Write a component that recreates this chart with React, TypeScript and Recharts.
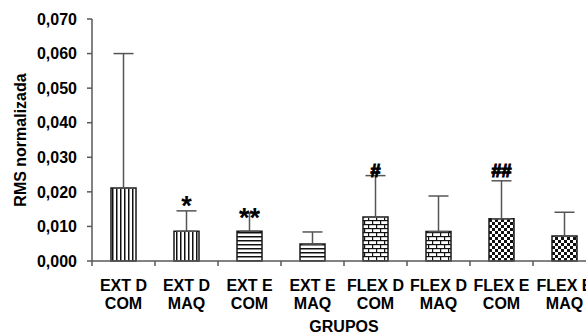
import { BarChart, Bar, XAxis, YAxis, ErrorBar, Cell, Label, ReferenceDot } from "recharts";

const groupTop = ["EXT D", "EXT D", "EXT E", "EXT E", "FLEX D", "FLEX D", "FLEX E", "FLEX E"];
const groupBottom = ["COM", "MAQ", "COM", "MAQ", "COM", "MAQ", "COM", "MAQ"];
const means = [0.0211, 0.0086, 0.0086, 0.0049, 0.0127, 0.0085, 0.0122, 0.0072];
const upper = [0.06, 0.0145, 0.0138, 0.0084, 0.0247, 0.0188, 0.0232, 0.0141];
const patterns = ["pv", "pv", "ph", "ph", "pb", "pb", "pc", "pc"];
const yTicks = [0, 0.01, 0.02, 0.03, 0.04, 0.05, 0.06, 0.07];

// significance marks: group index, symbol, baseline value
const marks = [
  { idx: 1, text: "*", at: 0.0132 },
  { idx: 2, text: "**", at: 0.0097 },
  { idx: 4, text: "#", at: 0.0242 },
  { idx: 6, text: "##", at: 0.0242 },
];

const FONT = '"Liberation Sans", Arial, sans-serif';
const AXIS = "#595959";

const data = means.map((m, i) => ({
  name: groupTop[i] + "\n" + groupBottom[i],
  mean: m,
  err: [0, upper[i] - m],
}));

const fmt = (v: number) => v.toFixed(3).replace(".", ",");

const boldText = { fontFamily: FONT, fontSize: 16, fontWeight: "bold" as const, fill: "#000" };

function GroupTick(props: any) {
  const { x, y, payload, width, visibleTicksCount } = props;
  const band = width && visibleTicksCount ? width / visibleTicksCount : 63;
  const [a, b] = String(payload.value).split("\n");
  const bx = x - band / 2;
  return (
    <g>
      <line x1={bx} x2={bx} y1={y} y2={y + 5} stroke={AXIS} strokeWidth={1.5} />
      <text x={x} y={y + 29.5} textAnchor="middle" style={boldText}>
        {a}
      </text>
      <text x={x} y={y + 47.5} textAnchor="middle" style={boldText}>
        {b}
      </text>
    </g>
  );
}

function YTitle(props: any) {
  const vb = props.viewBox;
  const cx = vb.x + 20;
  const cy = vb.y + vb.height / 2;
  return (
    <text x={cx} y={cy} transform={`rotate(-90 ${cx} ${cy})`} textAnchor="middle" dominantBaseline="central" style={boldText}>
      RMS normalizada
    </text>
  );
}

function XTitle(props: any) {
  const vb = props.viewBox;
  return (
    <text x={vb.x + vb.width / 2} y={vb.y + 70.5} textAnchor="middle" style={boldText}>
      GRUPOS
    </text>
  );
}

function markLabel(text: string) {
  return (props: any) => {
    const vb = props.viewBox;
    const star = text.includes("*");
    const style = star
      ? { ...boldText, fontSize: 27 }
      : { ...boldText, fontSize: 18, stroke: "#000", strokeWidth: 1.1 };
    return (
      <text x={vb.x} y={vb.y} textAnchor="middle" style={style}>
        {text}
      </text>
    );
  };
}

export default function App() {
  return (
    <div style={{ position: "absolute", left: 0, top: 0, width: 586, height: 334, overflow: "hidden", background: "#fff" }}>
      <BarChart width={600} height={334} data={data} margin={{ top: 19, right: 4, bottom: 0, left: 0 }} barSize={25}>
        <defs>
          <pattern id="pv" width="4" height="4" patternUnits="userSpaceOnUse">
            <rect width="4" height="4" fill="#fff" />
            <rect x="0" y="0" width="1.5" height="4" fill="#111" />
          </pattern>
          <pattern id="ph" width="4" height="4" patternUnits="userSpaceOnUse">
            <rect width="4" height="4" fill="#fff" />
            <rect x="0" y="0" width="4" height="1.5" fill="#111" />
          </pattern>
          <pattern id="pb" width="8" height="8" patternUnits="userSpaceOnUse">
            <rect width="8" height="8" fill="#fff" />
            <rect x="0" y="0" width="8" height="1.2" fill="#111" />
            <rect x="0" y="4" width="8" height="1.2" fill="#111" />
            <rect x="0" y="0" width="1.2" height="4" fill="#111" />
            <rect x="4" y="4" width="1.2" height="4" fill="#111" />
          </pattern>
          <pattern id="pc" width="6" height="6" patternUnits="userSpaceOnUse">
            <rect width="6" height="6" fill="#fff" />
            <rect x="0" y="0" width="3" height="3" fill="#111" />
            <rect x="3" y="3" width="3" height="3" fill="#111" />
          </pattern>
        </defs>
        <XAxis
          dataKey="name"
          height={73}
          interval={0}
          tickSize={0}
          tickMargin={0}
          tickLine={false}
          axisLine={{ stroke: AXIS, strokeWidth: 1.5 }}
          tick={<GroupTick />}
        >
          <Label content={<XTitle />} />
        </XAxis>
        <YAxis
          width={92}
          domain={[0, 0.07]}
          ticks={yTicks}
          tickFormatter={fmt}
          tickSize={5}
          tickMargin={10}
          axisLine={{ stroke: AXIS, strokeWidth: 1.5 }}
          tickLine={{ stroke: AXIS, strokeWidth: 1.5 }}
          tick={boldText}
        >
          <Label content={<YTitle />} />
        </YAxis>
        <Bar dataKey="mean" stroke="#1a1a1a" strokeWidth={1.5} isAnimationActive={false}>
          {data.map((d, i) => (
            <Cell key={d.name + i} fill={`url(#${patterns[i]})`} />
          ))}
          <ErrorBar dataKey="err" width={10} stroke="#555" strokeWidth={1.5} direction="y" />
        </Bar>
        {marks.map((m) => (
          <ReferenceDot key={m.idx} x={data[m.idx].name} y={m.at} r={0} ifOverflow="visible" label={markLabel(m.text)} />
        ))}
      </BarChart>
    </div>
  );
}
